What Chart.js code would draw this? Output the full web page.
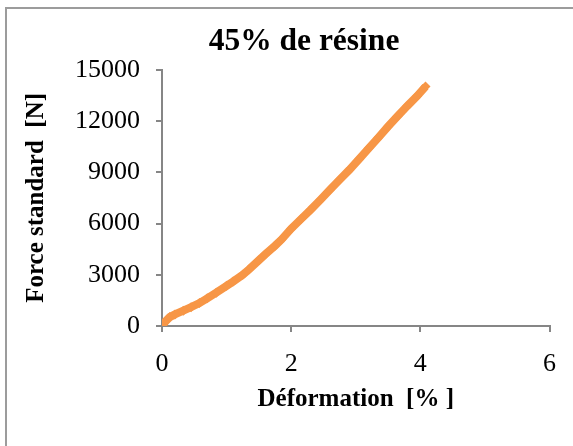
<!DOCTYPE html>
<html>
<head>
<meta charset="utf-8">
<script src="https://cdn.jsdelivr.net/npm/chart.js@4"></script>
<style>
  html, body { margin: 0; padding: 0; background: #fff; overflow: hidden; }
  #wrap { position: relative; width: 573px; height: 446px; }
  #myChart { position: absolute; left: 0; top: 0; }
  #frame { position: absolute; left: 5px; top: 7px; width: 600px; height: 500px;
           border-left: 2px solid #9c9c9c; border-top: 2px solid #9c9c9c; pointer-events: none; }
</style>
</head>
<body>
<div id="wrap">
  <canvas id="myChart" width="573" height="446"></canvas>
  <div id="frame"></div>
</div>
<script>
// Data
const deformation = [0, 0.05, 0.12, 0.2, 0.33, 0.45, 0.58, 0.7, 0.84, 1.0, 1.1, 1.25, 1.35, 1.5, 1.6, 1.75,
    1.85, 2.0, 2.15, 2.3, 2.45, 2.6, 2.75, 2.9, 3.05, 3.2, 3.35, 3.5, 3.65, 3.8, 3.95, 4.08];
const force = [0, 250, 520, 680, 900, 1100, 1340, 1620, 1950, 2350, 2600, 3000, 3320, 3850, 4200, 4700,
    5060, 5700, 6250, 6800, 7380, 7980, 8560, 9140, 9760, 10400, 11030, 11680, 12290, 12890, 13460, 14020];

const chartTitle = "45% de résine";
const xTitle = "Déformation  [% ]";
const yTitle = "Force standard  [N]";

const serif = '"Liberation Serif", serif';
const axisGray = "#868686";

const points = deformation.map((d, i) => ({ x: d, y: force[i] }));

const ctx = document.getElementById("myChart").getContext("2d");
new Chart(ctx, {
    type: "scatter",
    data: {
        datasets: [{
            data: points,
            showLine: true,
            borderColor: "#F79646",
            backgroundColor: "#F79646",
            borderWidth: 8,
            pointStyle: "rectRot",
            pointRadius: 5,
            pointBorderWidth: 0
        }]
    },
    options: {
        responsive: false,
        animation: false,
        devicePixelRatio: 1,
        layout: { padding: { left: 54, right: 19, top: 0, bottom: 0 } },
        plugins: {
            legend: { display: false },
            tooltip: { enabled: false },
            title: {
                display: true,
                text: chartTitle,
                color: "#000",
                font: { family: serif, size: 31.5, weight: "bold" },
                padding: { top: 23, bottom: 9 }
            }
        },
        scales: {
            x: {
                type: "linear",
                min: 0,
                max: 6,
                ticks: {
                    stepSize: 2, color: "#000", padding: 17, font: { family: serif, size: 26 },
                    callback: v => String(v)
                },
                grid: { drawOnChartArea: false, drawTicks: true, tickLength: 6, color: axisGray, lineWidth: 2 },
                border: { color: axisGray, width: 2 },
                title: {
                    display: true,
                    text: xTitle,
                    color: "#000",
                    font: { family: serif, size: 25, weight: "bold" },
                    padding: { top: 0, bottom: 31 }
                },
                afterFit: scale => { scale.height = 120; }
            },
            y: {
                min: 0,
                max: 15000,
                ticks: {
                    stepSize: 3000, color: "#000", padding: 16, font: { family: serif, size: 26 },
                    callback: v => String(v)
                },
                grid: { drawOnChartArea: false, drawTicks: true, tickLength: 6, color: axisGray, lineWidth: 2 },
                border: { color: axisGray, width: 2 },
                title: {
                    display: true,
                    text: yTitle,
                    color: "#000",
                    font: { family: serif, size: 25, weight: "bold" },
                    padding: { top: -32, bottom: 0 }
                },
                afterFit: scale => { scale.width = 108; }
            }
        }
    }
});
</script>
</body>
</html>
